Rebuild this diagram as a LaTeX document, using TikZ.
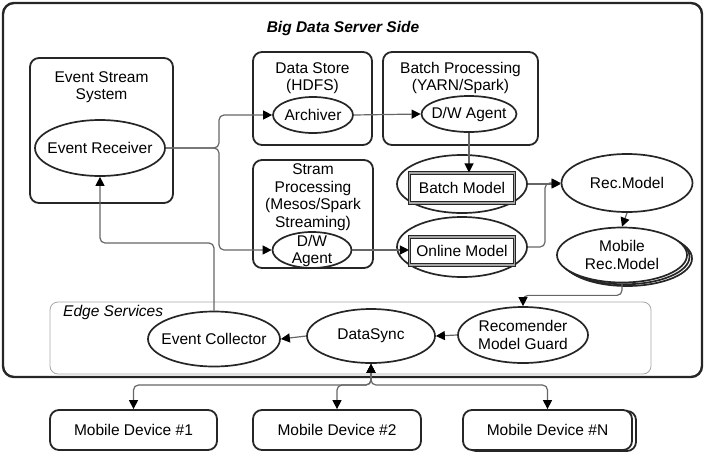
\documentclass[tikz,border=0pt]{standalone}
\usepackage{fontspec}
\setmainfont{Liberation Sans}
\usetikzlibrary{arrows.meta,shapes.geometric,calc}
\tikzset{
  every node/.style={font=\fontsize{15.5pt}{17.5pt}\selectfont, inner sep=0pt},
  outerbox/.style={draw=black!85, line width=2.4pt, rounded corners=11pt},
  box/.style={draw=black!85, line width=1.8pt, rounded corners=9pt},
  ell/.style={ellipse, draw=black!85, line width=1.7pt, fill=white},
  inrect/.style={draw=black!85, line width=1.1pt, double=black!35, double distance=1.6pt, fill=white},
  txt/.style={align=center},
  tip/.style={},
  conn/.style={draw=black!60, line width=1.2pt, rounded corners=5pt,
    -{Triangle[length=9pt,width=9pt,color=black]}},
  biconn/.style={draw=black!60, line width=1.2pt, rounded corners=5pt,
    {Triangle[length=9pt,width=9pt,color=black]}-{Triangle[length=9pt,width=9pt,color=black]}},
}
\begin{document}
\begin{tikzpicture}[x=1pt,y=-1pt]
\useasboundingbox (0,0) rectangle (708,455);
% outer server box
\node[outerbox, minimum width=699pt, minimum height=374pt] (srv) at (352.5,190) {};
\node[font=\fontsize{15.5pt}{17.5pt}\selectfont\bfseries\itshape] (ttl) at (343,28) {Big Data Server Side};

% Event stream system
\node[box, minimum width=143pt, minimum height=145pt] (ess) at (101.5,130.5) {};
\node[txt] (esst) at (101.5,87) {Event Stream\\System};
\node[ell, minimum width=130pt, minimum height=56pt] (er) at (100,148) {};
\node (ert) at (er) {Event Receiver};

% Data store
\node[box, minimum width=119pt, minimum height=93pt] (dst) at (312.5,98.5) {};
\node[txt] (dstt) at (312.5,78) {Data Store\\(HDFS)};
\node[ell, minimum width=80pt, minimum height=36pt] (arch) at (313,115) {};
\node (archt) at (arch) {Archiver};

% Batch processing
\node[box, minimum width=155pt, minimum height=93pt] (bp) at (460.5,98.5) {};
\node[txt] (bpt) at (460.5,78) {Batch Processing\\(YARN/Spark)};
\node[ell, minimum width=95pt, minimum height=36pt] (bdw) at (469,114) {};
\node (bdwt) at (bdw) {D/W Agent};

% Stream processing
\node[box, minimum width=120pt, minimum height=108pt] (sp) at (313,214) {};
\node[txt] (spt) at (313,197) {Stram\\Processing\\(Mesos/Spark\\Streaming)};
\node[ell, minimum width=79pt, minimum height=36pt, fill=none] (sdw) at (312,250) {};
\node[txt, font=\fontsize{15.5pt}{16.5pt}\selectfont] (sdwt) at (312,251) {D/W\\Agent};

% Models
\node[ell, minimum width=130pt, minimum height=58pt] (bm) at (462,184) {};
\node[inrect, minimum width=105pt, minimum height=30pt] (bmr) at (462,188) {Batch Model};
\node[ell, minimum width=130pt, minimum height=60pt] (om) at (462,247) {};
\node[inrect, minimum width=105pt, minimum height=28pt] (omr) at (462,251) {Online Model};

\node[ell, minimum width=131pt, minimum height=58pt] (rm) at (627,183) {};
\node (rmt) at (rm) {Rec.Model};

\node[ell, minimum width=130pt, minimum height=55pt] (mrm3) at (627,258.5) {};
\node[ell, minimum width=130pt, minimum height=55pt] (mrm2) at (624.5,256.8) {};
\node[ell, minimum width=130pt, minimum height=55pt] (mrm) at (622,255) {};
\node[txt] (mrmt) at (mrm) {Mobile\\Rec.Model};

% Edge services
\node[draw=black!35, line width=0.8pt, rounded corners=8pt, minimum width=601pt, minimum height=72pt] (edge) at (350.5,338) {};
\node[font=\fontsize{15.5pt}{17.5pt}\selectfont\itshape, anchor=west] (edget) at (63,312) {Edge Services};
\node[ell, minimum width=132pt, minimum height=55pt] (ec) at (214,339) {};
\node (ect) at (ec) {Event Collector};
\node[ell, minimum width=128pt, minimum height=54pt] (ds) at (371,336) {};
\node (dst2) at (ds) {DataSync};
\node[ell, minimum width=130pt, minimum height=56pt] (rmg) at (523,335) {};
\node[txt] (rmgt) at (rmg) {Recomender\\Model Guard};

% Mobile devices
\node[box, fill=white, minimum width=167pt, minimum height=40pt] (d1) at (133.5,430) {Mobile Device \#1};
\node[box, fill=white, minimum width=168pt, minimum height=40pt] (d2) at (337,430) {Mobile Device \#2};
\node[box, fill=white, minimum width=169pt, minimum height=40pt] (dns) at (551.5,431) {};
\node[box, fill=white, minimum width=169pt, minimum height=40pt] (dn) at (547.5,430) {Mobile Device \#N};

% connectors
\coordinate (j1) at (219,148);
\coordinate (h1) at (0,243);
\coordinate (h2) at (545,247);
\coordinate (bus) at (0,385);
\draw[conn] (er.east) -- (j1) |- (arch.west);
\draw[conn] (er.east) -- (j1) |- (sdw.west);
\draw[conn] (arch.east) -- (bdw.west);
\draw[conn] (bdw.south) -- (bdw.south |- bmr.north);
\draw[conn] (sdw.east) -- (omr.west |- sdw.east);
\draw[conn] (bm.east) -- (rm.west |- bm.east);
\draw[conn] (om.east) -- (h2) |- (rm.west);
\draw[conn] (rm.south) -- (mrm.north);
\draw[conn] (mrm.south) -- ++(0,12) -| (rmg.north);
\draw[conn] (rmg.west) -- (ds.east);
\draw[conn] (ds.west) -- (ec.east);
\draw[conn] (ec.north) -- (ec.north |- h1) -| (er.south);
\draw[biconn] (ds.south) -- (ds.south |- bus) -| (d1.north);
\draw[biconn] (ds.south) -- (ds.south |- bus) -| (d2.north);
\draw[biconn] (ds.south) -- (ds.south |- bus) -| (dn.north);
\end{tikzpicture}
\end{document}
